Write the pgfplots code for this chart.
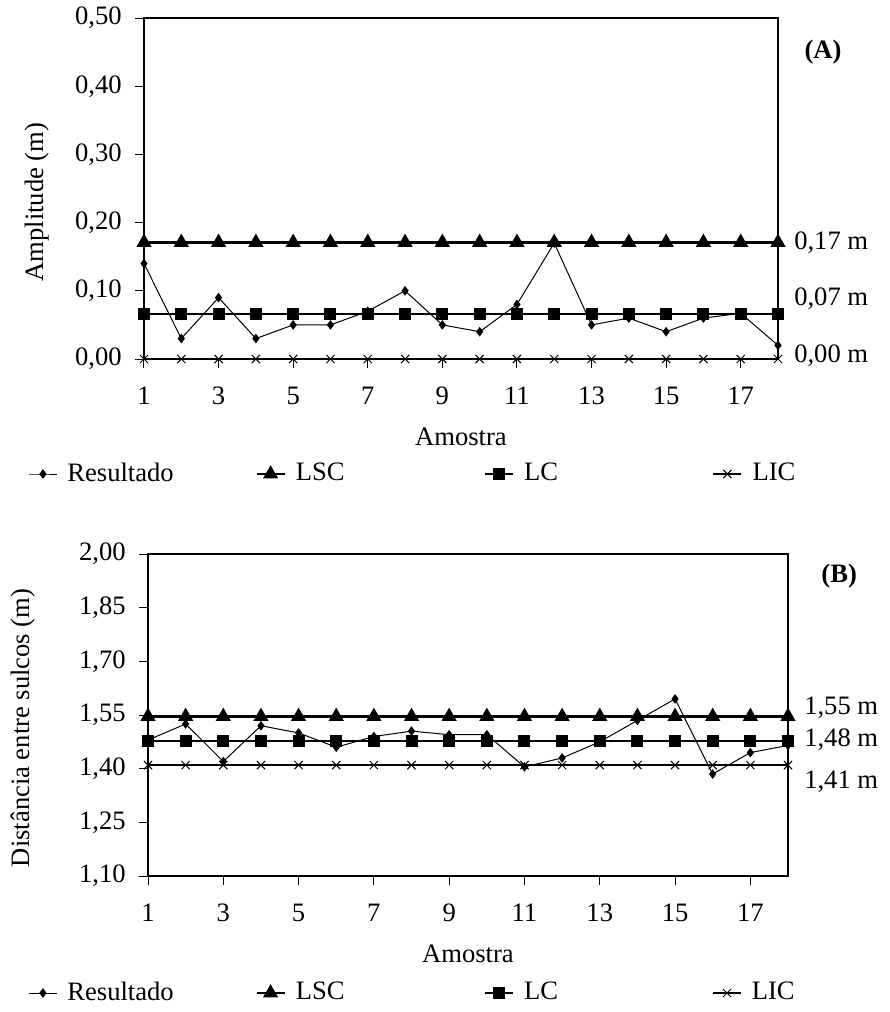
\documentclass[border=0pt]{standalone}
\usepackage{fontspec}
\setmainfont{Liberation Serif}
\usepackage{pgfplots}
\pgfplotsset{compat=1.18}

% 1 px of the reference = 0.5pt
\pgfplotsset{
  carta/.style={
    scale only axis,
    xmin=1, xmax=18,
    xtick={1,3,5,7,9,11,13,15,17},
    xtick pos=bottom, ytick pos=left,
    tick align=outside,
    major tick length=4.5pt,
    tick style={black, line width=0.5pt},
    axis line style={black, line width=0.6pt},
    clip=false,
    /pgf/number format/assume math mode=true,
    yticklabel style={xshift=-2pt, /pgf/number format/.cd, fixed, fixed zerofill, precision=2, use comma},
    xticklabel style={yshift=-5pt},
    xlabel style={at={([yshift=-39pt]axis description cs:0.5,0)}, anchor=center},
    legend columns=4,
    legend cell align=left,
    legend style={draw=none, fill=none, anchor=west, inner sep=0pt,
      /tikz/every odd column/.append style={column sep=3pt}},
    legend image code/.code={\draw[mark repeat=2,mark phase=2,#1] plot coordinates {(0pt,0pt) (7pt,0pt) (14pt,0pt)};},
  },
  res/.style={black, line width=0.5pt, mark=diamond*, mark size=2pt},
  lsc/.style={black, line width=1.2pt, mark=triangle*, mark size=3.2pt},
  lc/.style={black, line width=1.2pt, mark=square*, mark size=2.4pt},
  lic/.style={black, line width=1.2pt, mark=x, mark size=2.9pt, mark options={line width=0.5pt}},
}

\begin{document}
\fontsize{13.3}{16}\selectfont
\begin{tikzpicture}
\useasboundingbox (0,0) rectangle (444.5pt,-506pt);

% (A) amplitude
\begin{axis}[carta,
  at={(72pt,-179.5pt)}, anchor=south west,
  width=317pt, height=170.5pt,
  ymin=0, ymax=0.5,
  ytick={0,0.1,0.2,0.3,0.4,0.5},
  ylabel={Amplitude (m)},
  ylabel style={at={([xshift=-53.5pt]axis description cs:0,0.46)}, anchor=center},
  xlabel={Amostra},
  legend style={at={([xshift=-58pt,yshift=-57.5pt]axis description cs:0,0)}},
]
\addplot[res] coordinates {(1,0.14) (2,0.03) (3,0.09) (4,0.03) (5,0.05) (6,0.05) (7,0.07) (8,0.10) (9,0.05) (10,0.04) (11,0.08) (12,0.17) (13,0.05) (14,0.06) (15,0.04) (16,0.06) (17,0.067) (18,0.02)};
\addplot[lsc] coordinates {(1,0.171) (2,0.171) (3,0.171) (4,0.171) (5,0.171) (6,0.171) (7,0.171) (8,0.171) (9,0.171) (10,0.171) (11,0.171) (12,0.171) (13,0.171) (14,0.171) (15,0.171) (16,0.171) (17,0.171) (18,0.171)};
\addplot[lc] coordinates {(1,0.066) (2,0.066) (3,0.066) (4,0.066) (5,0.066) (6,0.066) (7,0.066) (8,0.066) (9,0.066) (10,0.066) (11,0.066) (12,0.066) (13,0.066) (14,0.066) (15,0.066) (16,0.066) (17,0.066) (18,0.066)};
\addplot[lic] coordinates {(1,0) (2,0) (3,0) (4,0) (5,0) (6,0) (7,0) (8,0) (9,0) (10,0) (11,0) (12,0) (13,0) (14,0) (15,0) (16,0) (17,0) (18,0)};
\legend{\makebox[92pt][l]{Resultado},\makebox[92pt][l]{LSC},\makebox[92pt][l]{LC},LIC}
\node[anchor=west, xshift=3.5pt] at (axis cs:18,0.171) {0,17 m};
\node[anchor=west, xshift=3.5pt] at (axis cs:18,0.088) {0,07 m};
\node[anchor=west, xshift=3.5pt] at (axis cs:18,0.005) {0,00 m};
\node[font=\bfseries] at (rel axis cs:1.071,0.90) {(A)};
\end{axis}

% (B) distancia entre sulcos
\begin{axis}[carta,
  at={(74pt,-438pt)}, anchor=south west,
  width=320pt, height=161pt,
  ymin=1.10, ymax=2.00,
  ytick={1.10,1.25,1.40,1.55,1.70,1.85,2.00},
  ylabel={Distância entre sulcos (m)},
  ylabel style={at={([xshift=-62.5pt]axis description cs:0,0.46)}, anchor=center},
  xlabel={Amostra},
  legend style={at={([xshift=-60pt,yshift=-58.5pt]axis description cs:0,0)}},
]
\addplot[res] coordinates {(1,1.48) (2,1.525) (3,1.42) (4,1.52) (5,1.50) (6,1.46) (7,1.49) (8,1.505) (9,1.495) (10,1.495) (11,1.405) (12,1.43) (13,1.475) (14,1.535) (15,1.595) (16,1.385) (17,1.445) (18,1.465)};
\addplot[lsc] coordinates {(1,1.546) (2,1.546) (3,1.546) (4,1.546) (5,1.546) (6,1.546) (7,1.546) (8,1.546) (9,1.546) (10,1.546) (11,1.546) (12,1.546) (13,1.546) (14,1.546) (15,1.546) (16,1.546) (17,1.546) (18,1.546)};
\addplot[lc] coordinates {(1,1.477) (2,1.477) (3,1.477) (4,1.477) (5,1.477) (6,1.477) (7,1.477) (8,1.477) (9,1.477) (10,1.477) (11,1.477) (12,1.477) (13,1.477) (14,1.477) (15,1.477) (16,1.477) (17,1.477) (18,1.477)};
\addplot[lic, line width=0.8pt] coordinates {(1,1.41) (2,1.41) (3,1.41) (4,1.41) (5,1.41) (6,1.41) (7,1.41) (8,1.41) (9,1.41) (10,1.41) (11,1.41) (12,1.41) (13,1.41) (14,1.41) (15,1.41) (16,1.41) (17,1.41) (18,1.41)};
\legend{\makebox[92pt][l]{Resultado},\makebox[92pt][l]{LSC},\makebox[92pt][l]{LC},LIC}
\node[anchor=west, xshift=3.5pt] at (axis cs:18,1.57) {1,55 m};
\node[anchor=west, xshift=3.5pt] at (axis cs:18,1.48) {1,48 m};
\node[anchor=west, xshift=3.5pt] at (axis cs:18,1.363) {1,41 m};
\node[font=\bfseries] at (rel axis cs:1.08,0.93) {(B)};
\end{axis}
\end{tikzpicture}
\end{document}
